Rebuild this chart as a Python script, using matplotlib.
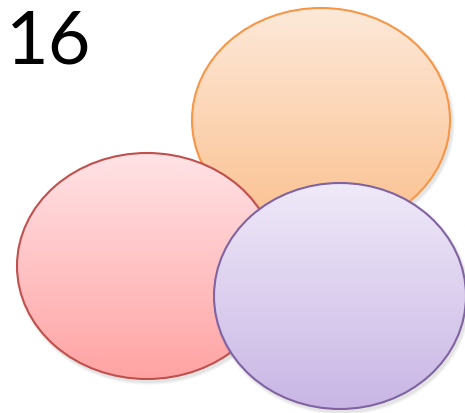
import numpy as np
import matplotlib.pyplot as plt
from matplotlib.patches import Ellipse
from matplotlib.colors import LinearSegmentedColormap

# ellipse shapes, drawn back to front (pixel coordinates)
names = ["orange", "red", "purple"]
cx = [321, 147, 340]
cy = [120, 266, 296]
rx = [129, 130, 126]
ry = [112, 113, 113]
top_colors = ["#fde9d9", "#ffe3e6", "#efe9f8"]
bottom_colors = ["#fbc08e", "#ffa3a3", "#c9b6e5"]
edge_colors = ["#f79646", "#c0504d", "#8064a2"]
label = "16"

W, H = 465, 413
fig = plt.figure(figsize=(W / 100, H / 100), dpi=100)
ax = fig.add_axes([0, 0, 1, 1])
ax.set_xlim(0, W)
ax.set_ylim(H, 0)
ax.axis("off")

for i, name in enumerate(names):
    # soft shadow
    for k, a in zip([6, 4, 2], [0.05, 0.07, 0.09]):
        sh = Ellipse((cx[i] + 2, cy[i] + 3), 2 * rx[i] + k, 2 * ry[i] + k,
                     facecolor="gray", edgecolor="none", alpha=a, zorder=2 * i)
        ax.add_patch(sh)
    el = Ellipse((cx[i], cy[i]), 2 * rx[i], 2 * ry[i], facecolor="none",
                 edgecolor=edge_colors[i], linewidth=1.5, zorder=2 * i + 1.5)
    ax.add_patch(el)
    cmap = LinearSegmentedColormap.from_list(name, [top_colors[i], bottom_colors[i]])
    grad = np.linspace(0, 1, 256).reshape(-1, 1)
    im = ax.imshow(grad, cmap=cmap, aspect="auto",
                   extent=(cx[i] - rx[i], cx[i] + rx[i], cy[i] + ry[i], cy[i] - ry[i]),
                   zorder=2 * i + 1)
    clip = Ellipse((cx[i], cy[i]), 2 * rx[i], 2 * ry[i], transform=ax.transData)
    im.set_clip_path(clip)

ax.set_xlim(0, W)
ax.set_ylim(H, 0)

ax.text(6, 64, label, fontsize=53, family=["Lato", "DejaVu Sans"],
        va="baseline", ha="left", color="black", zorder=10)

fig.savefig("out.png", dpi=100)
